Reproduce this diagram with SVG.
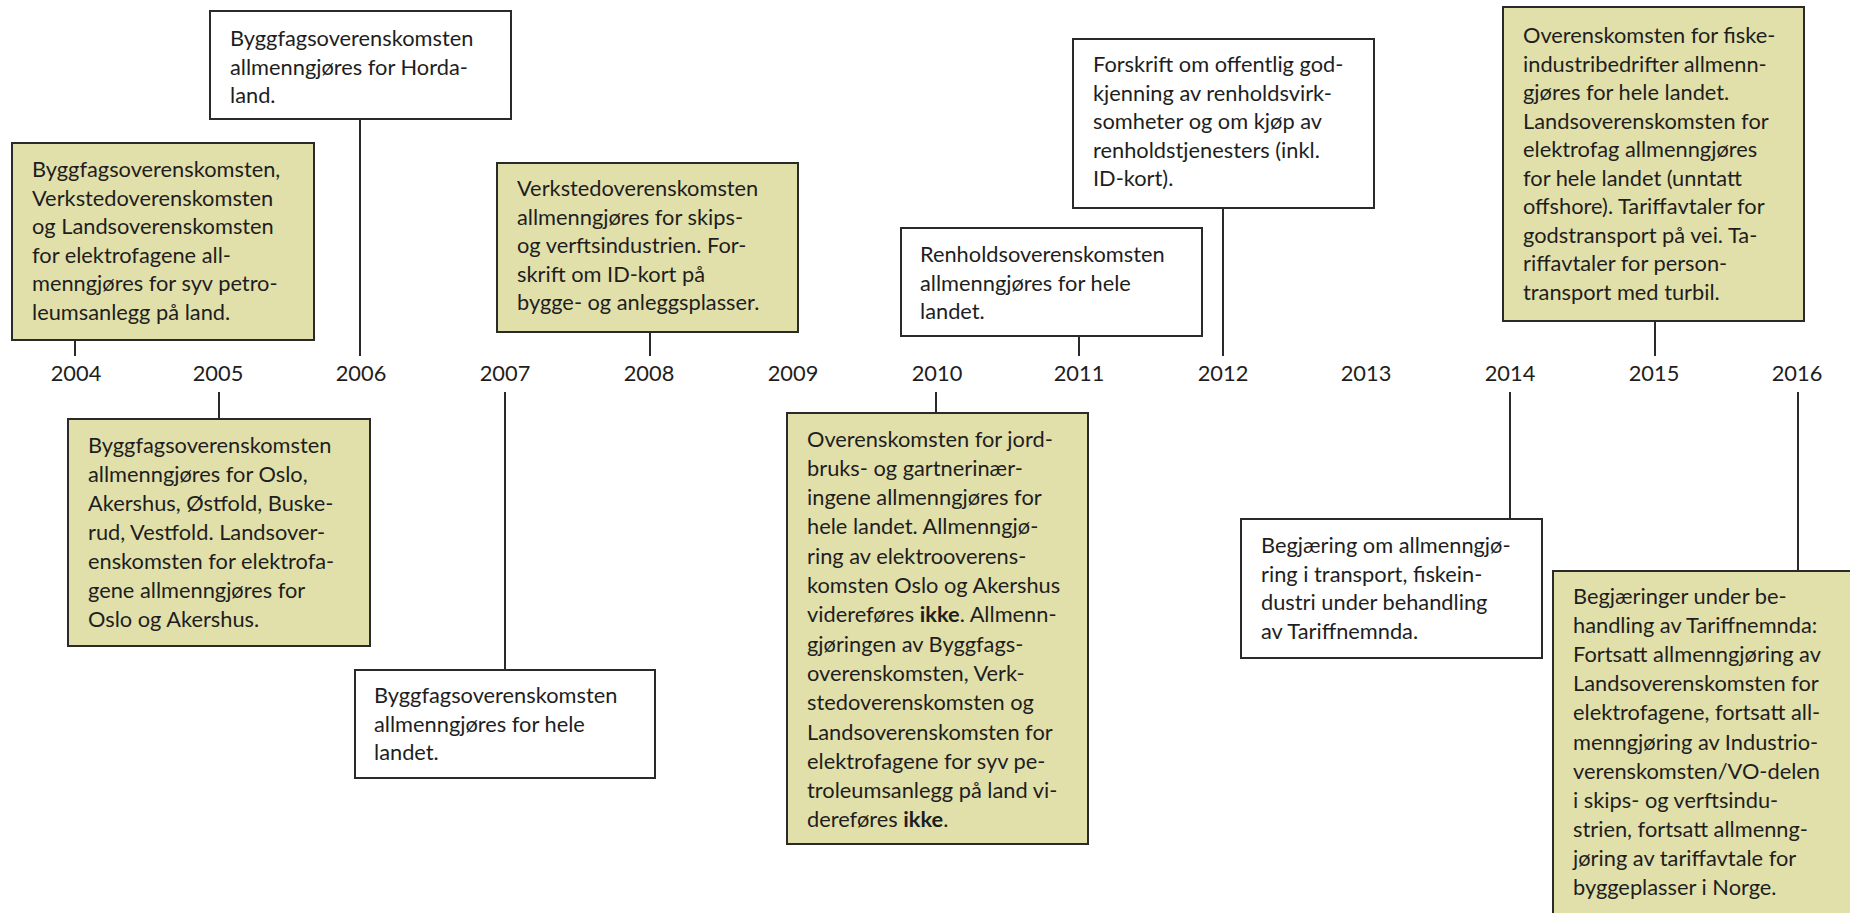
<svg xmlns="http://www.w3.org/2000/svg" width="1850" height="913" viewBox="0 0 1850 913">
<style>
.box{stroke:#2a2a2a;stroke-width:2}
.y{fill:#E2E0AA}
.w{fill:#ffffff}
.t{font-family:Lato,"Liberation Sans",sans-serif;font-size:21.8px;fill:#1e1e1e}
.yr{font-family:Lato,"Liberation Sans",sans-serif;font-size:21.8px;fill:#1e1e1e;text-anchor:middle}
.c{stroke:#2a2a2a;stroke-width:2;fill:none}
</style>
<rect width="1850" height="913" fill="#ffffff"/>
<g id="connectors">
<line class="c" x1="75" y1="340" x2="75" y2="356"/>
<line class="c" x1="360" y1="119" x2="360" y2="356"/>
<line class="c" x1="650" y1="332" x2="650" y2="356"/>
<line class="c" x1="219" y1="392" x2="219" y2="419"/>
<line class="c" x1="505" y1="392" x2="505" y2="670"/>
<line class="c" x1="1079" y1="336" x2="1079" y2="356"/>
<line class="c" x1="1223" y1="208" x2="1223" y2="356"/>
<line class="c" x1="936" y1="392" x2="936" y2="413"/>
<line class="c" x1="1655" y1="321" x2="1655" y2="356"/>
<line class="c" x1="1510" y1="392" x2="1510" y2="519"/>
<line class="c" x1="1798" y1="392" x2="1798" y2="571"/>
</g>
<g id="years">
<text class="yr" x="76" y="381">2004</text>
<text class="yr" x="218" y="381">2005</text>
<text class="yr" x="361" y="381">2006</text>
<text class="yr" x="505" y="381">2007</text>
<text class="yr" x="649" y="381">2008</text>
<text class="yr" x="793" y="381">2009</text>
<text class="yr" x="937" y="381">2010</text>
<text class="yr" x="1079" y="381">2011</text>
<text class="yr" x="1223" y="381">2012</text>
<text class="yr" x="1366" y="381">2013</text>
<text class="yr" x="1510" y="381">2014</text>
<text class="yr" x="1654" y="381">2015</text>
<text class="yr" x="1797" y="381">2016</text>
</g>
<g id="n2004">
<rect class="box y" x="12" y="143" width="302" height="197"/>
<text class="t">
<tspan x="32" y="177">Byggfagsoverenskomsten,</tspan>
<tspan x="32" y="205.5">Verkstedoverenskomsten</tspan>
<tspan x="32" y="234">og Landsoverenskomsten</tspan>
<tspan x="32" y="262.5">for elektrofagene all-</tspan>
<tspan x="32" y="291">menngjøres for syv petro-</tspan>
<tspan x="32" y="319.5">leumsanlegg på land.</tspan>
</text>
</g>
<g id="n2006">
<rect class="box w" x="210" y="11" width="301" height="108"/>
<text class="t">
<tspan x="230" y="46">Byggfagsoverenskomsten</tspan>
<tspan x="230" y="74.5">allmenngjøres for Horda-</tspan>
<tspan x="230" y="103">land.</tspan>
</text>
</g>
<g id="n2008">
<rect class="box y" x="497" y="163" width="301" height="169"/>
<text class="t">
<tspan x="517" y="196">Verkstedoverenskomsten</tspan>
<tspan x="517" y="224.5">allmenngjøres for skips-</tspan>
<tspan x="517" y="253">og verftsindustrien. For-</tspan>
<tspan x="517" y="281.5">skrift om ID-kort på</tspan>
<tspan x="517" y="310">bygge- og anleggsplasser.</tspan>
</text>
</g>
<g id="n2005">
<rect class="box y" x="68" y="419" width="302" height="227"/>
<text class="t">
<tspan x="88" y="453">Byggfagsoverenskomsten</tspan>
<tspan x="88" y="482">allmenngjøres for Oslo,</tspan>
<tspan x="88" y="511">Akershus, Østfold, Buske-</tspan>
<tspan x="88" y="540">rud, Vestfold. Landsover-</tspan>
<tspan x="88" y="569">enskomsten for elektrofa-</tspan>
<tspan x="88" y="598">gene allmenngjøres for</tspan>
<tspan x="88" y="627">Oslo og Akershus.</tspan>
</text>
</g>
<g id="n2007">
<rect class="box w" x="355" y="670" width="300" height="108"/>
<text class="t">
<tspan x="374" y="703">Byggfagsoverenskomsten</tspan>
<tspan x="374" y="731.5">allmenngjøres for hele</tspan>
<tspan x="374" y="760">landet.</tspan>
</text>
</g>
<g id="n2011">
<rect class="box w" x="901" y="228" width="301" height="108"/>
<text class="t">
<tspan x="920" y="262">Renholdsoverenskomsten</tspan>
<tspan x="920" y="290.5">allmenngjøres for hele</tspan>
<tspan x="920" y="319">landet.</tspan>
</text>
</g>
<g id="n2012">
<rect class="box w" x="1073" y="39" width="301" height="169"/>
<text class="t">
<tspan x="1093" y="72">Forskrift om offentlig god-</tspan>
<tspan x="1093" y="100.5">kjenning av renholdsvirk-</tspan>
<tspan x="1093" y="129">somheter og om kjøp av</tspan>
<tspan x="1093" y="157.5">renholdstjenesters (inkl.</tspan>
<tspan x="1093" y="186">ID-kort).</tspan>
</text>
</g>
<g id="n2010">
<rect class="box y" x="787" y="413" width="301" height="431"/>
<text class="t">
<tspan x="807" y="446.5">Overenskomsten for jord-</tspan>
<tspan x="807" y="475.8">bruks- og gartnerinær-</tspan>
<tspan x="807" y="505.1">ingene allmenngjøres for</tspan>
<tspan x="807" y="534.4">hele landet. Allmenngjø-</tspan>
<tspan x="807" y="563.7">ring av elektrooverens-</tspan>
<tspan x="807" y="593">komsten Oslo og Akershus</tspan>
<tspan x="807" y="622.3">videreføres <tspan font-weight="bold">ikke</tspan>. Allmenn-</tspan>
<tspan x="807" y="651.6">gjøringen av Byggfags-</tspan>
<tspan x="807" y="680.9">overenskomsten, Verk-</tspan>
<tspan x="807" y="710.2">stedoverenskomsten og</tspan>
<tspan x="807" y="739.5">Landsoverenskomsten for</tspan>
<tspan x="807" y="768.8">elektrofagene for syv pe-</tspan>
<tspan x="807" y="798.1">troleumsanlegg på land vi-</tspan>
<tspan x="807" y="827.4">dereføres <tspan font-weight="bold">ikke</tspan>.</tspan>
</text>
</g>
<g id="n2015">
<rect class="box y" x="1503" y="7" width="301" height="314"/>
<text class="t">
<tspan x="1523" y="43">Overenskomsten for fiske-</tspan>
<tspan x="1523" y="71.5">industribedrifter allmenn-</tspan>
<tspan x="1523" y="100">gjøres for hele landet.</tspan>
<tspan x="1523" y="128.5">Landsoverenskomsten for</tspan>
<tspan x="1523" y="157">elektrofag allmenngjøres</tspan>
<tspan x="1523" y="185.5">for hele landet (unntatt</tspan>
<tspan x="1523" y="214">offshore). Tariffavtaler for</tspan>
<tspan x="1523" y="242.5">godstransport på vei. Ta-</tspan>
<tspan x="1523" y="271">riffavtaler for person-</tspan>
<tspan x="1523" y="299.5">transport med turbil.</tspan>
</text>
</g>
<g id="n2014">
<rect class="box w" x="1241" y="519" width="301" height="139"/>
<text class="t">
<tspan x="1261" y="553">Begjæring om allmenngjø-</tspan>
<tspan x="1261" y="581.5">ring i transport, fiskein-</tspan>
<tspan x="1261" y="610">dustri under behandling</tspan>
<tspan x="1261" y="638.5">av Tariffnemnda.</tspan>
</text>
</g>
<g id="n2016">
<rect class="box y" x="1553" y="571" width="320" height="360"/>
<text class="t">
<tspan x="1573" y="604">Begjæringer under be-</tspan>
<tspan x="1573" y="633.1">handling av Tariffnemnda:</tspan>
<tspan x="1573" y="662.2">Fortsatt allmenngjøring av</tspan>
<tspan x="1573" y="691.3">Landsoverenskomsten for</tspan>
<tspan x="1573" y="720.4">elektrofagene, fortsatt all-</tspan>
<tspan x="1573" y="749.5">menngjøring av Industrio-</tspan>
<tspan x="1573" y="778.6">verenskomsten/VO-delen</tspan>
<tspan x="1573" y="807.7">i skips- og verftsindu-</tspan>
<tspan x="1573" y="836.8">strien, fortsatt allmenng-</tspan>
<tspan x="1573" y="865.9">jøring av tariffavtale for</tspan>
<tspan x="1573" y="895">byggeplasser i Norge.</tspan>
</text>
</g>
</svg>
